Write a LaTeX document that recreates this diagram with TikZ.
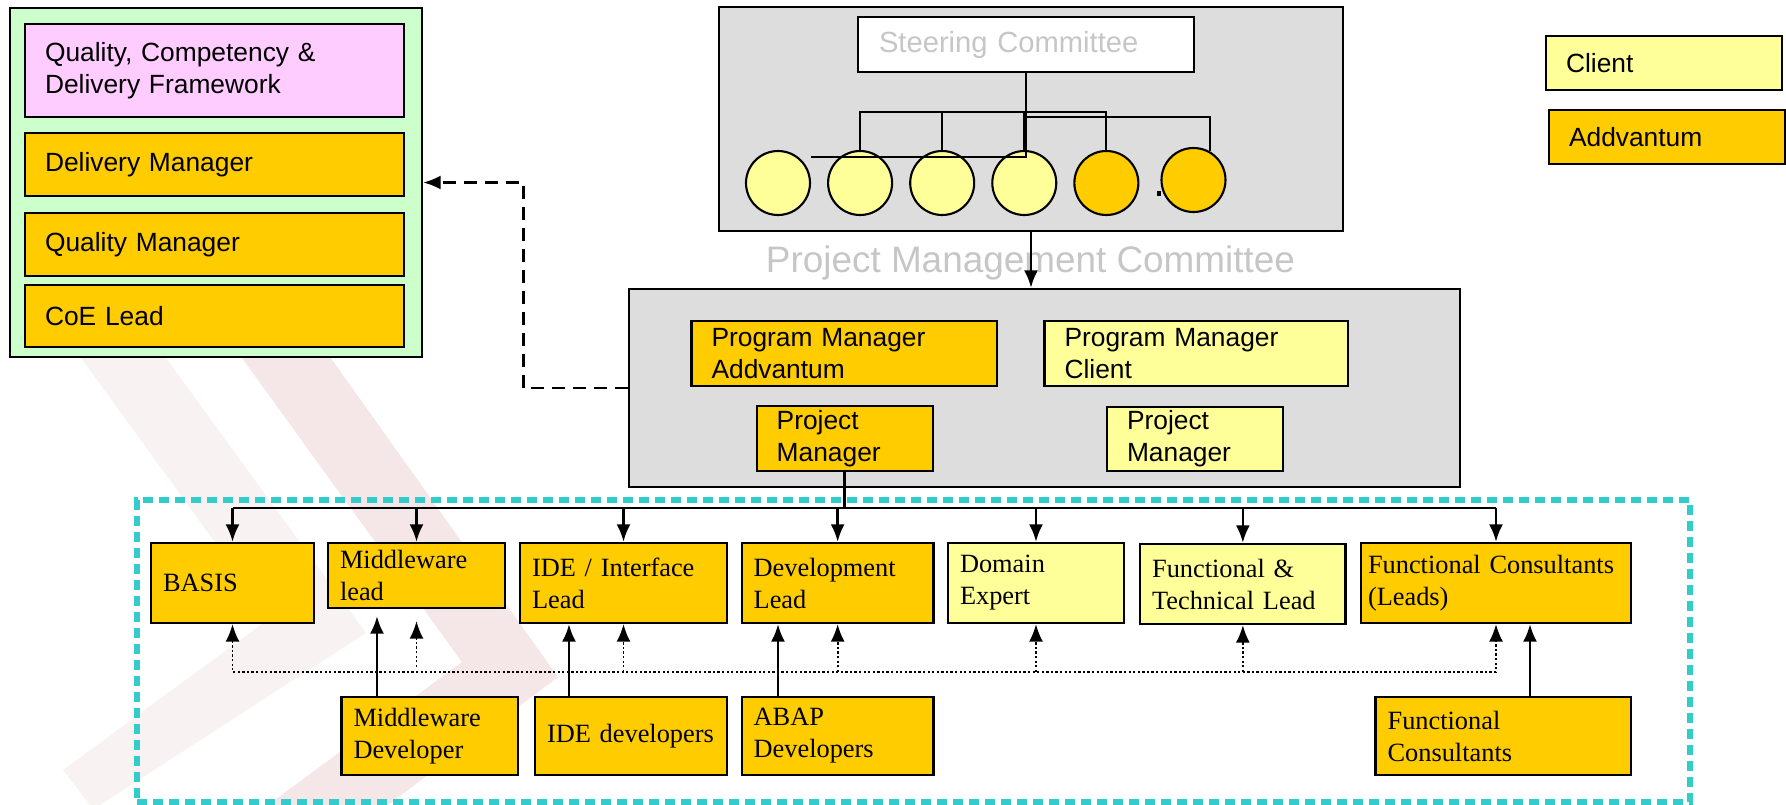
\documentclass[tikz,border=0pt]{standalone}
\usepackage{fontspec}
\setmainfont{Liberation Sans}
\newfontfamily\serifrm{Liberation Serif}
\usepackage{tikz}
\usetikzlibrary{arrows.meta,positioning}

\definecolor{addorange}{RGB}{255,204,0}
\definecolor{clientyellow}{RGB}{255,255,153}
\definecolor{framepink}{RGB}{255,204,255}
\definecolor{panelgreen}{RGB}{204,255,204}
\definecolor{boxgray}{RGB}{221,221,221}
\definecolor{labelgray}{RGB}{198,198,198}
\definecolor{teamcyan}{RGB}{51,204,204}
\definecolor{wmlight}{RGB}{248,242,243}
\definecolor{wmpink}{RGB}{245,230,232}

\begin{document}
\begin{tikzpicture}[x=0.02cm,y=-0.02cm,>={Latex[length=10pt,width=8pt]},
    sbox/.style={draw,line width=1.2pt,inner xsep=0.4cm,inner ysep=0pt,align=left,font=\fontsize{15}{18.2}\selectfont},
    tbox/.style={draw,line width=1.3pt,fill=addorange,inner xsep=0.24cm,inner ysep=0pt,align=left,font=\serifrm\fontsize{15}{18.2}\selectfont},
    member/.style={draw,circle,line width=1.2pt,minimum size=1.28cm,inner sep=0pt},
    link/.style={line width=1.5pt},
    dotlink/.style={line width=1.1pt,dash pattern=on 1.3pt off 1.3pt}]
          \useasboundingbox (0,0) rectangle (1786,805);
          % watermark
          \fill[wmlight] (68,340) -- (153,340) -- (366,633) -- (100,805) -- (90,805) -- (63,770) -- (270,618) -- cycle;
          \fill[wmpink] (229,340) -- (318,340) -- (558,677) -- (388,805) -- (268,805) -- (462,662) -- cycle;
          % quality panel
          \node[draw,line width=1.3pt,fill=panelgreen,minimum width=8.24cm,minimum height=6.98cm] (panel) at (216,182.5) {};
          \node[sbox,fill=framepink,minimum width=7.58cm,minimum height=1.86cm,text width=6.78cm] (qcd) at (214.5,70.5) {Quality, Competency \&\\Delivery Framework};
          \node[sbox,fill=addorange,minimum width=7.58cm,minimum height=1.26cm,text width=6.78cm] (dm) at (214.5,164.5) {Delivery Manager};
          \node[sbox,fill=addorange,minimum width=7.58cm,minimum height=1.26cm,text width=6.78cm] (qm) at (214.5,244.5) {Quality Manager};
          \node[sbox,fill=addorange,minimum width=7.58cm,minimum height=1.24cm,text width=6.78cm] (coe) at (214.5,316) {CoE Lead};
          % steering committee
          \node[draw,line width=1.3pt,fill=boxgray,minimum width=12.48cm,minimum height=4.48cm] (steer) at (1031,119) {};
          \node[draw,line width=1.3pt,fill=white,minimum width=6.72cm,minimum height=1.1cm,inner xsep=0.42cm,text width=5.88cm,align=left,text=labelgray,font=\fontsize{16.6}{20}\selectfont] (sc) at (1026,44.5) {Steering Committee};
          \node[member,fill=clientyellow] (c1) at (778,183) {};
          \node[member,fill=clientyellow,right=0.32cm of c1] (c2) {};
          \node[member,fill=clientyellow,right=0.32cm of c2] (c3) {};
          \node[member,fill=clientyellow,right=0.32cm of c3] (c4) {};
          \node[member,fill=addorange,right=0.32cm of c4] (c5) {};
          \node[member,fill=addorange] (c6) at (1193.5,180) {};
          \fill (1157,191) rectangle (1161,196);
          \draw[line width=1.2pt] (sc.south) -- (sc.south |- 0,157) -- (c1.east |- 0,157);
          \draw[line width=1.2pt] (c2.north) |- (c5.north |- 0,112) -- (c5.north);
          \draw[line width=1.2pt] (c3.north) -- (c3.north |- 0,112) (c4.north) -- (c4.north |- 0,112);
          \draw[line width=1.2pt] (sc.south |- 0,117) -| (c6.60);
          % project management committee
          \node[text=labelgray,font=\fontsize{21}{25}\selectfont] (pmclabel) at (1030.5,263) {Project Management Committee};
          \node[draw,line width=1.3pt,fill=boxgray,minimum width=16.62cm,minimum height=3.96cm] (pmc) at (1044.5,388) {};
          \draw[link,->] (steer.south) -- (steer.south |- pmc.north);
          \node[sbox,fill=addorange,minimum width=6.11cm,minimum height=1.3cm,text width=5.31cm] (pgma) at (844.25,353.5) {Program Manager\\Addvantum};
          \node[sbox,fill=clientyellow,minimum width=6.07cm,minimum height=1.3cm,text width=5.27cm] (pgmc) at (1196.25,353.5) {Program Manager\\Client};
          \node[sbox,fill=addorange,minimum width=3.52cm,minimum height=1.3cm,text width=2.72cm] (prma) at (844.7,438.5) {Project\\Manager};
          \node[sbox,fill=clientyellow,minimum width=3.52cm,minimum height=1.28cm,text width=2.72cm] (prmc) at (1195,439) {Project\\Manager};
          \draw[line width=1.4pt,dash pattern=on 0.26cm off 0.16cm,->] (pmc.west) -- ++(-104.5,0) |- (panel.east);
          % legend
          \node[sbox,fill=clientyellow,minimum width=4.72cm,minimum height=1.08cm,text width=3.92cm] (keyclient) at (1664,63) {Client};
          \node[sbox,fill=addorange,minimum width=4.72cm,minimum height=1.08cm,text width=3.92cm] (keyadd) at (1667,137) {Addvantum};
          % team
          \node[draw=teamcyan,line width=3.7pt,dash pattern=on 0.2cm off 0.12cm,minimum width=31.06cm,minimum height=6.04cm] (team) at (913.5,651) {};
          \node[tbox,minimum width=3.26cm,minimum height=1.6cm,text width=2.78cm] (basis) at (232.5,583) {BASIS};
          \node[tbox,minimum width=3.54cm,minimum height=1.3cm,text width=3.06cm] (mwl) at (416.5,575.5) {Middleware\\lead};
          \node[tbox,minimum width=4.14cm,minimum height=1.6cm,text width=3.66cm] (ide) at (623.5,583) {IDE / Interface\\Lead};
          \node[tbox,minimum width=3.84cm,minimum height=1.6cm,text width=3.36cm] (dev) at (837.65,583) {Development\\Lead};
          \node[tbox,fill=clientyellow,minimum width=3.52cm,minimum height=1.6cm,text width=3.04cm] (dom) at (1036,583) {Domain\\Expert};
          \node[tbox,fill=clientyellow,minimum width=4.11cm,minimum height=1.6cm,text width=3.63cm] (ftl) at (1242.85,584) {Functional \&\\Technical Lead};
          \node[tbox,minimum width=5.4cm,minimum height=1.6cm,inner xsep=0.14cm,text width=5.12cm] (fcl) at (1496,583) {Functional Consultants\\(Leads)};
          \node[tbox,minimum width=3.53cm,minimum height=1.56cm,text width=3.05cm] (mwdev) at (429.75,736) {Middleware\\Developer};
          \node[tbox,minimum width=3.84cm,minimum height=1.56cm,text width=3.36cm] (idedev) at (631,736) {IDE developers};
          \node[tbox,minimum width=3.84cm,minimum height=1.56cm,text width=3.36cm] (abap) at (837.65,736) {ABAP\\Developers};
          \node[tbox,minimum width=5.11cm,minimum height=1.56cm,text width=4.63cm] (fcons) at (1503.35,736) {Functional\\Consultants};
          \draw[link] (prma.south) -- (prma.south |- 0,508);
          \draw[link] (basis.north |- 0,508) -- (fcl.north |- 0,508);
          \foreach \n in {basis,mwl,ide,dev,dom,ftl,fcl}
            \draw[link,->] (\n.north |- 0,508) -- (\n.north);
          \draw[link,->,shorten >=0.14cm] (mwdev.north -| 377,0) -- (mwl.south -| 377,0);
          \draw[link,->] (idedev.north -| 569,0) -- (ide.south -| 569,0);
          \draw[link,->] (abap.north -| 778,0) -- (dev.south -| 778,0);
          \draw[link,->] (fcons.north -| 1530,0) -- (fcl.south -| 1530,0);
          \draw[dotlink,<->] (basis.south) |- (fcl.south |- 0,672) -- (fcl.south);
          \foreach \n in {ide,dev,dom,ftl}
            \draw[dotlink,->] (\n.south |- 0,672) -- (\n.south);
          \draw[dotlink,->,shorten >=0.24cm] (mwl.south |- 0,667) -- (mwl.south);
        \end{tikzpicture}
\end{document}
